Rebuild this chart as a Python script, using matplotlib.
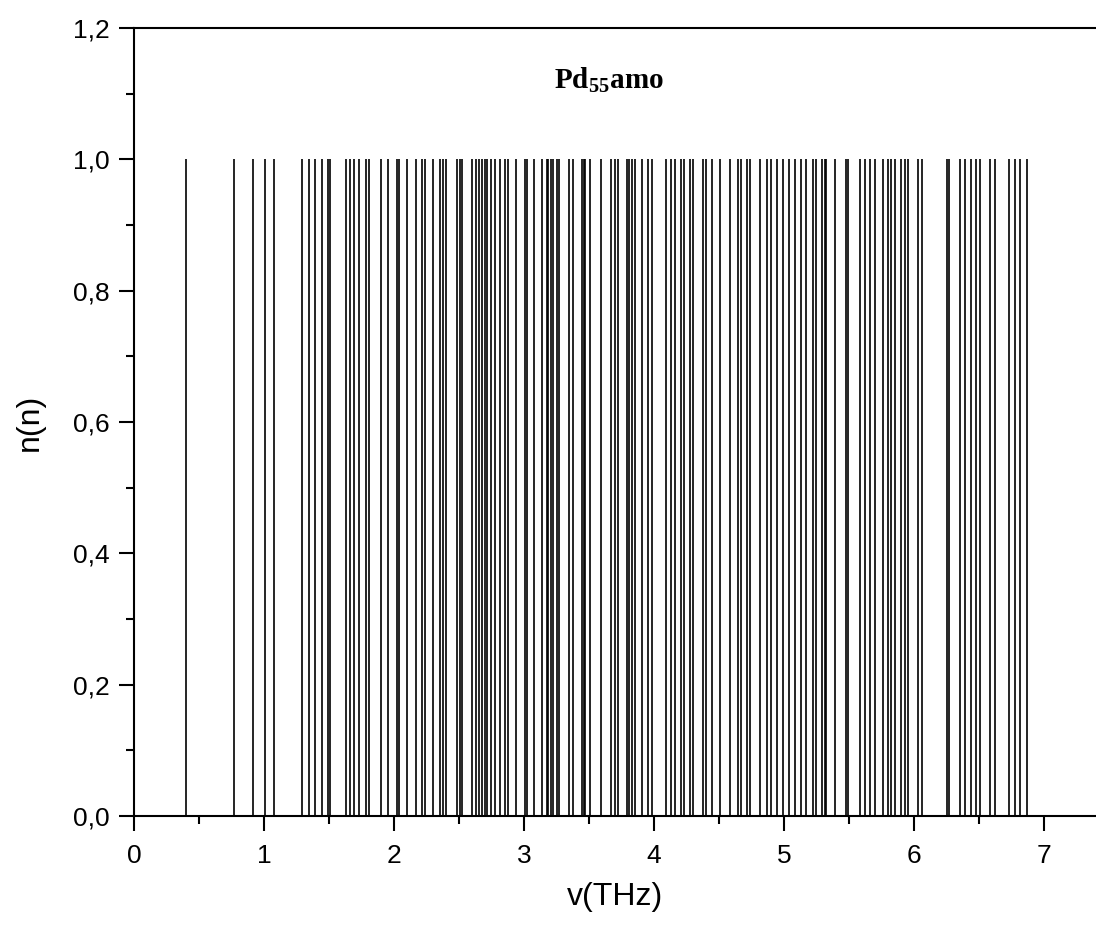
import matplotlib
matplotlib.use("Agg")
import matplotlib.pyplot as plt
from matplotlib.ticker import MultipleLocator, FuncFormatter

# Vibrational frequencies (THz), each with occupation n = 1
freqs = [0.395, 0.769, 0.911, 1.005, 1.077, 1.288, 1.344, 1.390, 1.442, 1.488,
         1.505, 1.626, 1.659, 1.690, 1.728, 1.782, 1.805, 1.895, 1.954, 2.018,
         2.034, 2.095, 2.167, 2.211, 2.236, 2.300, 2.352, 2.377, 2.398, 2.480,
         2.505, 2.523, 2.595, 2.626, 2.652, 2.677, 2.698, 2.715, 2.744, 2.775,
         2.813, 2.852, 2.877, 2.934, 3.005, 3.023, 3.077, 3.134, 3.172, 3.185,
         3.203, 3.223, 3.249, 3.269, 3.344, 3.372, 3.446, 3.459, 3.472, 3.505,
         3.595, 3.665, 3.698, 3.723, 3.788, 3.808, 3.826, 3.852, 3.903, 3.954,
         3.980, 4.095, 4.128, 4.159, 4.203, 4.231, 4.275, 4.300, 4.377, 4.398,
         4.442, 4.505, 4.582, 4.646, 4.672, 4.711, 4.736, 4.813, 4.865, 4.903,
         4.942, 4.992, 5.036, 5.082, 5.134, 5.165, 5.223, 5.249, 5.288, 5.313,
         5.326, 5.390, 5.475, 5.488, 5.582, 5.621, 5.659, 5.698, 5.762, 5.800,
         5.826, 5.857, 5.903, 5.934, 5.954, 6.031, 6.062, 6.254, 6.267, 6.352,
         6.389, 6.442, 6.475, 6.511, 6.582, 6.626, 6.728, 6.775, 6.818, 6.869]
counts = [1.0] * len(freqs)

x_label = "v(THz)"
y_label = "n(n)"
title = r"Pd$_{\mathregular{55}}$amo"

fig = plt.figure(figsize=(10.96, 9.34), dpi=100)
ax = fig.add_axes([0.1225, 0.1263, 0.8775, 0.8437])

ax.vlines(freqs, 0, counts, colors="black", linewidth=1.2)

ax.set_xlim(0, 7.4)
ax.set_ylim(0, 1.2)

ax.xaxis.set_major_locator(MultipleLocator(1))
ax.xaxis.set_minor_locator(MultipleLocator(0.5))
ax.yaxis.set_major_locator(MultipleLocator(0.2))
ax.yaxis.set_minor_locator(MultipleLocator(0.1))
ax.yaxis.set_major_formatter(FuncFormatter(lambda v, p: f"{v:.1f}".replace(".", ",")))
ax.xaxis.set_major_formatter(FuncFormatter(lambda v, p: f"{v:.0f}"))

ax.tick_params(which="major", direction="out", length=11, width=1.5,
               labelsize=19, pad=7)
ax.tick_params(axis="x", which="major", pad=9)
ax.tick_params(which="minor", direction="out", length=6, width=1.5)
ax.tick_params(top=False, right=False, which="both")

for side in ["left", "bottom", "top"]:
    ax.spines[side].set_linewidth(1.5)
ax.spines["right"].set_visible(False)

for lbl in ax.get_xticklabels() + ax.get_yticklabels():
    lbl.set_fontfamily("Liberation Sans")

ax.set_xlabel(x_label, fontsize=23, fontfamily="Liberation Sans", labelpad=10)
ax.set_ylabel(y_label, fontsize=23, fontfamily="Liberation Sans", labelpad=20)

ax.text(609 / 1096, 1 - 80 / 934, title, transform=fig.transFigure,
        ha="center", va="center", fontsize=21, fontweight="bold",
        fontfamily="Liberation Serif")

fig.savefig("out.png", dpi=100)
